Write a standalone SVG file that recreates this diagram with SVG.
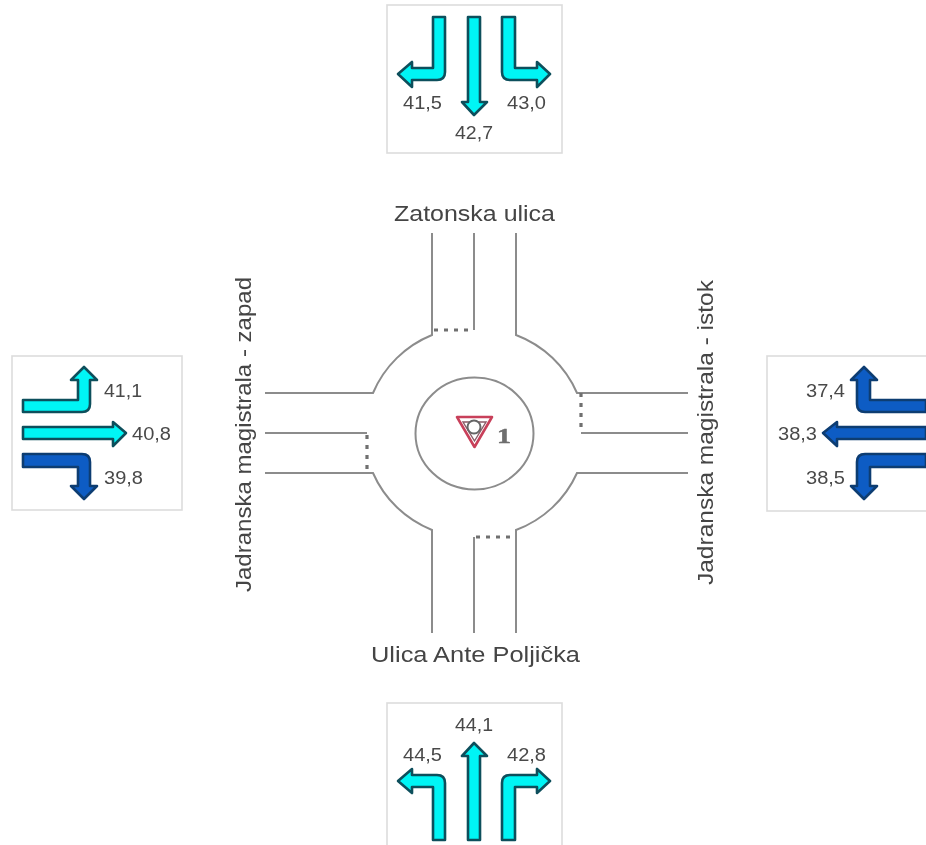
<svg xmlns="http://www.w3.org/2000/svg" width="926" height="845" viewBox="0 0 926 845">
<style>
.box{fill:#fff;stroke:#dcdcdc;stroke-width:1.6}
.c{fill:#05f5f5;stroke:#0c4f5c;stroke-width:2.6;stroke-linejoin:round}
.b{fill:#0a5cc4;stroke:#0c3c72;stroke-width:2.6;stroke-linejoin:round}
.v{font:18px "Liberation Sans",Arial,sans-serif;fill:#4a4a4a}
.l{font:22px "Liberation Sans",Arial,sans-serif;fill:#444}
.r{fill:none;stroke:#8c8c8c;stroke-width:2}
.d{fill:none;stroke:#707070;stroke-width:3.2;stroke-dasharray:4 6}
</style>
<defs><filter id="soft" x="-2%" y="-2%" width="104%" height="104%"><feGaussianBlur stdDeviation="0.6"/></filter></defs>
<rect width="926" height="845" fill="#fff"/>
<g filter="url(#soft)">
<g id="connectors">
<path class="r" d="M432 233V335A108 108 0 0 0 373 393H265"/>
<path class="r" d="M516 233V335A108 108 0 0 1 577 393H688"/>
<path class="r" d="M432 633V530A108 108 0 0 1 373 473H265"/>
<path class="r" d="M516 633V530A108 108 0 0 0 577 473H688"/>
<path class="r" d="M474 233V330"/>
<path class="r" d="M474 633V537"/>
<path class="r" d="M265 433H367"/>
<path class="r" d="M581 433H688"/>
<path class="d" d="M434 330H474"/>
<path class="d" d="M476 537H516"/>
<path class="d" d="M367 435V473"/>
<path class="d" d="M581 393V431"/>
</g>
<g id="node-north">
<rect class="box" x="387" y="5" width="175" height="148"/>
<path class="c" d="M433 17H445V72Q445 80 437 80H412V87L398 74L412 62V68H433Z"/>
<path class="c" d="M468 17H480V102H487L474 115L462 102H468Z"/>
<path class="c" d="M502 17H515V68H537V62L550 74L537 87V80H510Q502 80 502 72Z"/>
<text class="v" x="403" y="109" textLength="39" lengthAdjust="spacingAndGlyphs">41,5</text>
<text class="v" x="455" y="139" textLength="38" lengthAdjust="spacingAndGlyphs">42,7</text>
<text class="v" x="507" y="109" textLength="39" lengthAdjust="spacingAndGlyphs">43,0</text>
</g>
<g id="node-west">
<rect class="box" x="12" y="356" width="170" height="154"/>
<path class="c" d="M23 400H78V380H71L84 367L97 380H90V404Q90 412 82 412H23Z"/>
<path class="c" d="M23 427H113V422L126 433L113 446V439H23Z"/>
<path class="b" d="M23 454H82Q90 454 90 462V486H97L84 499L71 486H78V467H23Z"/>
<text class="v" x="104" y="397" textLength="38" lengthAdjust="spacingAndGlyphs">41,1</text>
<text class="v" x="132" y="440" textLength="39" lengthAdjust="spacingAndGlyphs">40,8</text>
<text class="v" x="104" y="484" textLength="39" lengthAdjust="spacingAndGlyphs">39,8</text>
</g>
<g id="node-east">
<rect class="box" x="767" y="356" width="170" height="155"/>
<path class="b" d="M926 400H870V380H877L864 367L851 380H857V404Q857 412 865 412H926Z"/>
<path class="b" d="M926 427H837V422L823 433L837 446V439H926Z"/>
<path class="b" d="M926 454H865Q857 454 857 462V486H851L864 499L877 486H870V467H926Z"/>
<text class="v" x="806" y="397" textLength="39" lengthAdjust="spacingAndGlyphs">37,4</text>
<text class="v" x="778" y="440" textLength="39" lengthAdjust="spacingAndGlyphs">38,3</text>
<text class="v" x="806" y="484" textLength="39" lengthAdjust="spacingAndGlyphs">38,5</text>
</g>
<g id="node-south">
<rect class="box" x="387" y="703" width="175" height="160"/>
<path class="c" d="M433 840H445V783Q445 775 437 775H412V769L398 781L412 793V787H433Z"/>
<path class="c" d="M468 840H480V756H487L474 743L462 756H468Z"/>
<path class="c" d="M502 840H515V787H537V793L550 781L537 769V775H510Q502 775 502 783Z"/>
<text class="v" x="455" y="731" textLength="38" lengthAdjust="spacingAndGlyphs">44,1</text>
<text class="v" x="403" y="761" textLength="39" lengthAdjust="spacingAndGlyphs">44,5</text>
<text class="v" x="507" y="761" textLength="39" lengthAdjust="spacingAndGlyphs">42,8</text>
</g>
<g id="node-roundabout">
<ellipse cx="474.5" cy="433.5" rx="59" ry="56" fill="none" stroke="#8c8c8c" stroke-width="2"/>
<path d="M457 417H492L474.5 447Z" fill="none" stroke="#c8405a" stroke-width="2.6" stroke-linejoin="round"/>
<path d="M463 422H486L474.5 441Z" fill="none" stroke="#8a5a66" stroke-width="1.4"/>
<circle cx="474" cy="427" r="6.5" fill="#fff" stroke="#666" stroke-width="2"/>
<text x="497" y="443" font-family="'Liberation Serif',serif" font-weight="bold" font-size="22" fill="#6e6e6e" stroke="#6e6e6e" stroke-width="0.5" textLength="14" lengthAdjust="spacingAndGlyphs">1</text>
</g>
<g id="labels">
<text class="l" x="394" y="221" textLength="161" lengthAdjust="spacingAndGlyphs">Zatonska ulica</text>
<text class="l" x="371" y="662" textLength="209" lengthAdjust="spacingAndGlyphs">Ulica Ante Poljička</text>
<text class="l" transform="translate(251 592) rotate(-90)" textLength="315" lengthAdjust="spacingAndGlyphs">Jadranska magistrala - zapad</text>
<text class="l" transform="translate(713 585) rotate(-90)" textLength="305" lengthAdjust="spacingAndGlyphs">Jadranska magistrala - istok</text>
</g>
</g>
</svg>
